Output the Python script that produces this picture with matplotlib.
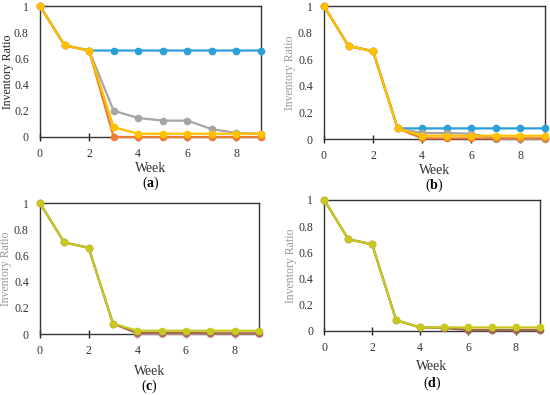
import matplotlib
matplotlib.use('Agg')
from matplotlib import pyplot as plt

weeks = [0, 1, 2, 3, 4, 5, 6, 7, 8, 9]

# panel (a)
a_blue = [1, 0.70, 0.66, 0.66, 0.66, 0.66, 0.66, 0.66, 0.66, 0.66]
a_gray = [1, 0.70, 0.66, 0.20, 0.145, 0.125, 0.125, 0.06, 0.03, 0.025]
a_orange = [1, 0.70, 0.66, 0.0, 0.0, 0.0, 0.0, 0.0, 0.0, 0.0]
a_gold = [1, 0.70, 0.66, 0.075, 0.025, 0.025, 0.025, 0.025, 0.025, 0.025]

# panel (b)
b_blue = [1, 0.70, 0.66, 0.08, 0.08, 0.08, 0.08, 0.08, 0.08, 0.08]
b_gray = [1, 0.70, 0.66, 0.08, 0.045, 0.045, 0.04, 0.003, 0.003, 0.003]
b_orange = [1, 0.70, 0.66, 0.08, 0.005, 0.005, 0.005, 0.005, 0.005, 0.005]
b_gold = [1, 0.70, 0.66, 0.08, 0.025, 0.025, 0.025, 0.025, 0.025, 0.025]

# panel (c)
c_pink = [1, 0.70, 0.66, 0.08, 0.003, 0.003, 0.003, 0.003, 0.003, 0.003]
c_brown = [1, 0.70, 0.66, 0.08, 0.008, 0.008, 0.008, 0.005, 0.005, 0.005]
c_lime = [1, 0.70, 0.66, 0.08, 0.025, 0.025, 0.025, 0.025, 0.025, 0.025]

# panel (d)
d_pink = [1, 0.70, 0.66, 0.08, 0.025, 0.025, 0.005, 0.005, 0.005, 0.005]
d_brown = [1, 0.70, 0.66, 0.08, 0.025, 0.02, 0.005, 0.005, 0.005, 0.005]
d_lime = [1, 0.70, 0.66, 0.08, 0.025, 0.025, 0.025, 0.025, 0.025, 0.025]

BLUE = '#2A9FD8'
GRAY = '#A5A5A5'
ORANGE = '#ED7D31'
GOLD = '#FFC000'
LIME = '#C8C81E'
PINK = '#F2B8C6'
BROWN = '#9C6B4E'

plt.rcParams['font.family'] = 'Liberation Serif'
plt.rcParams['mathtext.fontset'] = 'custom'
plt.rcParams['mathtext.rm'] = 'Liberation Serif'
plt.rcParams['mathtext.bf'] = 'Liberation Serif:bold'

fig = plt.figure(figsize=(5.5, 3.95), dpi=100)

# rect, series, ylabel colour, letter, ylabel x, week y, caption y
panels = [
    ([0.0727, 0.6532, 0.4018, 0.3316], [(a_blue, BLUE), (a_gray, GRAY), (a_orange, ORANGE), (a_gold, GOLD)],
     '#222222', 'a', -0.118, -0.237, -0.35),
    ([0.589, 0.648, 0.402, 0.3367], [(b_blue, BLUE), (b_gray, GRAY), (b_orange, ORANGE), (b_gold, GOLD)],
     '#999999', 'b', -0.127, -0.24, -0.35),
    ([0.0727, 0.1544, 0.398, 0.331], [(c_pink, PINK), (c_brown, BROWN), (c_lime, LIME)],
     '#999999', 'c', -0.127, -0.29, -0.40),
    ([0.5896, 0.1628, 0.392, 0.331], [(d_pink, PINK), (d_brown, BROWN), (d_lime, LIME)],
     '#999999', 'd', -0.127, -0.275, -0.40),
]

for rect, series, ylab_color, letter, ylx, wky, capy in panels:
    ax = fig.add_axes(rect)
    for vals, col in series:
        ax.plot(weeks, vals, color=col, lw=1.6, marker='o', ms=4.5, clip_on=False, zorder=3)
    ax.set_xlim(0, 9)
    ax.set_ylim(0, 1)
    ax.set_xticks([0, 2, 4, 6, 8])
    ax.set_yticks([0, 0.2, 0.4, 0.6, 0.8, 1])
    ax.set_yticklabels(['0', '0.2', '0.4', '0.6', '0.8', '1'])
    ax.tick_params(axis='x', direction='inout', length=6, width=1, color='#222222',
                   labelsize=8.5, labelcolor='#333333', pad=5)
    ax.tick_params(axis='y', length=0, labelsize=8.5, labelcolor='#333333', pad=8)
    for s in ax.spines.values():
        s.set_color('#333333')
        s.set_linewidth(1.0)
    ax.set_xlabel('Week', fontsize=10, color='#333333')
    ax.xaxis.set_label_coords(0.5, wky)
    ax.xaxis.label.set_va('center')
    ax.set_ylabel('Inventory Ratio', fontsize=8.5, color=ylab_color)
    ax.yaxis.set_label_coords(ylx, 0.5)
    ax.text(0.5, capy, '($\\mathbf{' + letter + '}$)', transform=ax.transAxes,
            ha='center', va='center', fontsize=10)

fig.savefig('out.png', dpi=100)
